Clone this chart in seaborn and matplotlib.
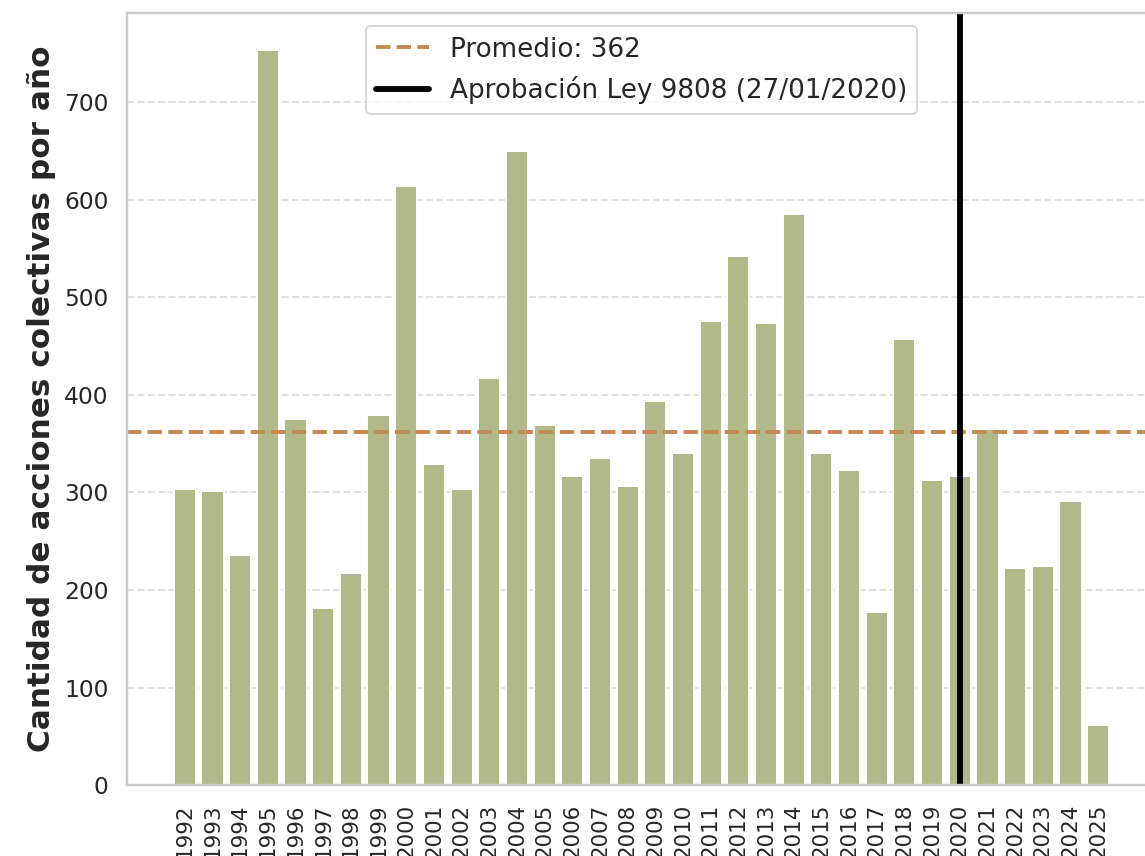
import numpy as np
import pandas as pd
import matplotlib
matplotlib.use("Agg")
import matplotlib.pyplot as plt
import seaborn as sns

# datos por año
years = list(range(1992, 2026))
acciones = [304, 302, 236, 754, 375, 182, 217, 379, 614, 329,
            304, 417, 650, 369, 317, 335, 307, 394, 340, 476,
            543, 474, 586, 340, 323, 177, 457, 313, 317, 365,
            223, 225, 291, 62]
ley_year = 2020
ley_label = "Aprobación Ley 9808 (27/01/2020)"

df = pd.DataFrame({"anio": years, "acciones": acciones})
promedio = df["acciones"].mean()

sns.set_theme(style="whitegrid")
plt.rcParams['font.family'] = ['DejaVu Sans']

fig = plt.figure(figsize=(1145 / 140, 856 / 140), dpi=140)
ax = fig.add_axes([0.1109, 0.0829, 0.8987, 0.9019])

sns.barplot(data=df, x="anio", y="acciones", native_scale=True,
            color="#b1b98a", saturation=1, ax=ax)
ax.axhline(promedio, color="#c48a52", linestyle="--", linewidth=2,
           label=f"Promedio: {promedio:.0f}")
ax.axvline(ley_year, color="black", linewidth=3, label=ley_label)

ax.set_xticks(years)
ax.set_xticklabels(years, rotation=90, fontsize=11)
ax.tick_params(axis='y', labelsize=12)
ax.set_xlabel("")
ax.set_ylabel("Cantidad de acciones colectivas por año", fontsize=16, fontweight="bold")
ax.xaxis.grid(False)
ax.yaxis.grid(True, linestyle="--", alpha=0.6)
ax.legend(loc="upper center", fontsize=13.5)

fig.savefig("out.png", dpi=140)
